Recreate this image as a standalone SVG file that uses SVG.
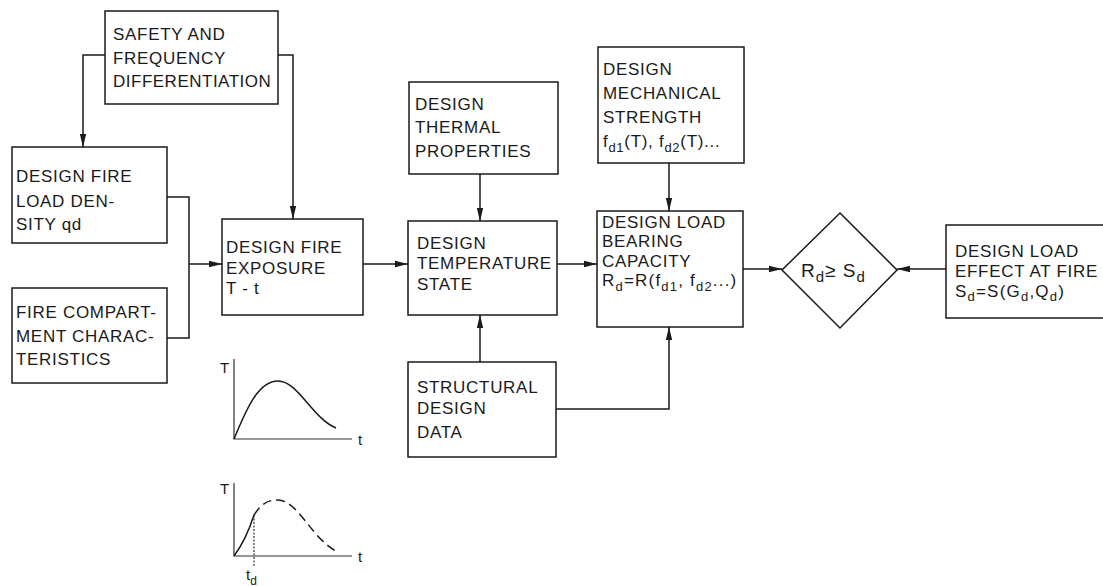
<svg xmlns="http://www.w3.org/2000/svg" width="1103" height="586" viewBox="0 0 1103 586">
<style>
.box{fill:#fff;stroke:#1a1a1a;stroke-width:1.5}
.t{font-family:"Liberation Sans",Arial,sans-serif;font-size:17px;letter-spacing:0.7px;fill:#1a1a1a}
.s{font-size:13px}
.c{fill:none;stroke:#1a1a1a;stroke-width:1.5}
.ax{fill:none;stroke:#333;stroke-width:1.2}
.g{font-family:"Liberation Sans",Arial,sans-serif;font-size:15px;fill:#1a1a1a}
</style>
<defs>
<marker id="ah" markerUnits="userSpaceOnUse" markerWidth="14" markerHeight="8" refX="13" refY="4" orient="auto">
<path d="M0,0.8 L13,4 L0,7.2 z" fill="#1a1a1a"/>
</marker>
</defs>
<rect width="1103" height="586" fill="#fff"/>
<g id="connectors">
<path class="c" d="M105,55 H83 V147" marker-end="url(#ah)"/>
<path class="c" d="M278,55 H293 V219" marker-end="url(#ah)"/>
<path class="c" d="M167,197 H189 V338 H167"/>
<path class="c" d="M189,264 H222" marker-end="url(#ah)"/>
<path class="c" d="M363,264 H408" marker-end="url(#ah)"/>
<path class="c" d="M480,174 V221" marker-end="url(#ah)"/>
<path class="c" d="M480,362 V315" marker-end="url(#ah)"/>
<path class="c" d="M557,264 H597" marker-end="url(#ah)"/>
<path class="c" d="M669,163 V211" marker-end="url(#ah)"/>
<path class="c" d="M556,409 H669 V327" marker-end="url(#ah)"/>
<path class="c" d="M743,269 H782" marker-end="url(#ah)"/>
<path class="c" d="M946,269 H897" marker-end="url(#ah)"/>
</g>
<g id="safety">
<rect class="box" x="105" y="11" width="173" height="93"/>
<text class="t" x="113" y="40">SAFETY AND</text>
<text class="t" x="113" y="64">FREQUENCY</text>
<text class="t" x="113" y="87" style="letter-spacing:0.5px">DIFFERENTIATION</text>
</g>
<g id="fireload">
<rect class="box" x="12" y="147" width="155" height="96"/>
<text class="t" x="16" y="182">DESIGN FIRE</text>
<text class="t" x="16" y="207">LOAD DEN-</text>
<text class="t" x="16" y="230">SITY  qd</text>
</g>
<g id="compartment">
<rect class="box" x="12" y="288" width="155" height="95"/>
<text class="t" x="16" y="318">FIRE COMPART-</text>
<text class="t" x="16" y="342">MENT CHARAC-</text>
<text class="t" x="16" y="365">TERISTICS</text>
</g>
<g id="exposure">
<rect class="box" x="222" y="219" width="141" height="96"/>
<text class="t" x="226" y="253">DESIGN FIRE</text>
<text class="t" x="226" y="274">EXPOSURE</text>
<text class="t" x="226" y="294">T - t</text>
</g>
<g id="thermal">
<rect class="box" x="409" y="82" width="149" height="92"/>
<text class="t" x="415" y="110">DESIGN</text>
<text class="t" x="415" y="133">THERMAL</text>
<text class="t" x="415" y="157">PROPERTIES</text>
</g>
<g id="temperature">
<rect class="box" x="408" y="221" width="149" height="94"/>
<text class="t" x="417" y="249">DESIGN</text>
<text class="t" x="417" y="269">TEMPERATURE</text>
<text class="t" x="417" y="290">STATE</text>
</g>
<g id="structural">
<rect class="box" x="408" y="362" width="148" height="95"/>
<text class="t" x="417" y="393">STRUCTURAL</text>
<text class="t" x="417" y="414">DESIGN</text>
<text class="t" x="417" y="438">DATA</text>
</g>
<g id="mechanical">
<rect class="box" x="598" y="47" width="146" height="116"/>
<text class="t" x="603" y="75">DESIGN</text>
<text class="t" x="603" y="99">MECHANICAL</text>
<text class="t" x="603" y="123">STRENGTH</text>
<text class="t" x="603" y="147">f<tspan class="s" dy="5">d1</tspan><tspan dy="-5">(T), f</tspan><tspan class="s" dy="5">d2</tspan><tspan dy="-5">(T)...</tspan></text>
</g>
<g id="loadbearing">
<rect class="box" x="597" y="211" width="146" height="116"/>
<text class="t" x="602" y="228">DESIGN LOAD</text>
<text class="t" x="602" y="247">BEARING</text>
<text class="t" x="602" y="267">CAPACITY</text>
<text class="t" x="602" y="286" style="letter-spacing:1.2px">R<tspan class="s" dy="5">d</tspan><tspan dy="-5">=R(f</tspan><tspan class="s" dy="5">d1</tspan><tspan dy="-5">, f</tspan><tspan class="s" dy="5">d2</tspan><tspan dy="-5">...)</tspan></text>
</g>
<g id="check">
<polygon class="box" points="840,213 897,270 840,328 782,270"/>
<text class="t" x="801" y="277" style="font-size:19px;letter-spacing:1px">R<tspan style="font-size:15px" dy="5">d</tspan><tspan dy="-5">≥ S</tspan><tspan style="font-size:15px" dy="5">d</tspan></text>
</g>
<g id="loadeffect">
<rect class="box" x="946" y="225" width="170" height="93"/>
<text class="t" x="955" y="257">DESIGN LOAD</text>
<text class="t" x="955" y="277">EFFECT AT FIRE</text>
<text class="t" x="955" y="297" style="letter-spacing:1.2px">S<tspan class="s" dy="4">d</tspan><tspan dy="-4">=S(G</tspan><tspan class="s" dy="4">d</tspan><tspan dy="-4">,Q</tspan><tspan class="s" dy="4">d</tspan><tspan dy="-4">)</tspan></text>
</g>
<g id="graph1">
<path class="ax" d="M234,359 V439 H352"/>
<text class="g" x="220" y="373">T</text>
<text class="g" x="358" y="445">t</text>
<path class="c" d="M234,439 C246,410 258,381 278,381 C298,381 312,418 336,428"/>
</g>
<g id="graph2">
<path class="ax" d="M234,483 V556 H352"/>
<path class="ax" d="M254,515 V567" stroke-dasharray="2 1.5"/>
<text class="g" x="220" y="494">T</text>
<text class="g" x="358" y="562">t</text>
<path class="c" d="M234,556 Q246,540 254,515"/>
<path class="c" d="M254,515 C262,503 268,500 278,500 C298,500 312,540 338,552" stroke-dasharray="9 5"/>
<text class="g" x="246" y="580">t<tspan font-size="12" dy="5">d</tspan></text>
</g>
</svg>
